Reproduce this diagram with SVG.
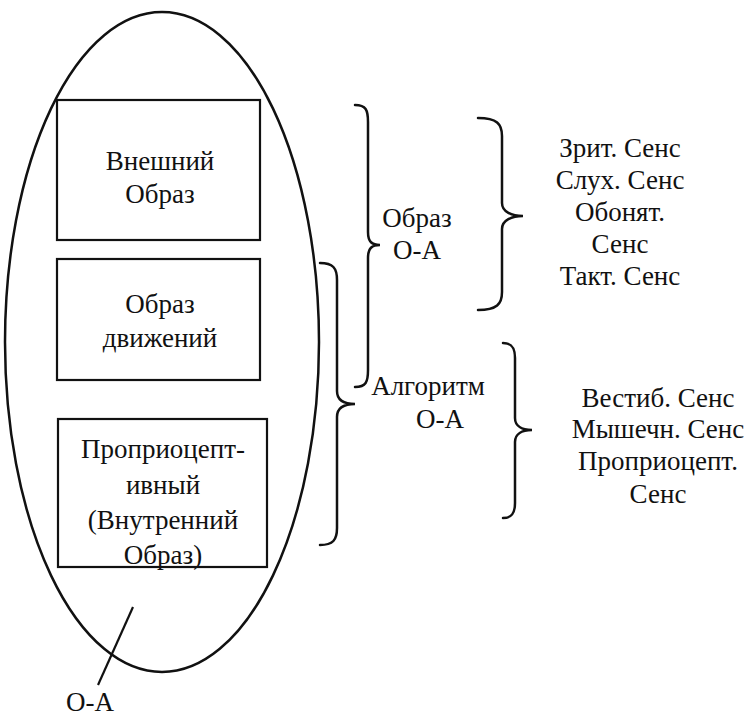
<svg xmlns="http://www.w3.org/2000/svg" width="750" height="717" viewBox="0 0 750 717" font-family="Liberation Serif, DejaVu Serif, serif">
<style>
text{font-size:27px;fill:#111;text-anchor:middle}
.box{fill:none;stroke:#111;stroke-width:2.2}
.br{fill:none;stroke:#111;stroke-width:2.5;stroke-linecap:round}
</style>
<rect width="750" height="717" fill="#fff"/>
<g id="oa-ellipse">
<ellipse cx="162" cy="342" rx="157" ry="330" fill="none" stroke="#111" stroke-width="2.5"/>
</g>
<g id="box-vneshniy" font-family="Liberation Serif, DejaVu Serif, serif">
<rect class="box" x="57" y="100" width="203" height="140"/>
<text x="160" y="170">Внешний</text>
<text x="160" y="203">Образ</text>
</g>
<g id="box-dvizheniy" font-family="Liberation Serif, DejaVu Serif, serif">
<rect class="box" x="57" y="259" width="203" height="121"/>
<text x="160" y="313">Образ</text>
<text x="160" y="347">движений</text>
</g>
<g id="box-vnutrenniy" font-family="Liberation Serif, DejaVu Serif, serif">
<rect class="box" x="58" y="419" width="209" height="148"/>
<text x="163" y="458">Проприоцепт-</text>
<text x="163" y="494">ивный</text>
<text x="163" y="529">(Внутренний</text>
<text x="163" y="564">Образ)</text>
</g>
<g id="connectors">
<path class="br" d="M355 105 C366 105 368 110 368 122 L368 232 C368 242 372 245 380 245 C372 245 368 248 368 258 L368 370 C368 382 366 387 355 387"/>
<path class="br" d="M320 263 C333 263 337 268 337 280 L337 391 C337 401 345 404 355 404 C345 404 337 407 337 417 L337 528 C337 540 333 545 320 545"/>
<path class="br" d="M478 118 C497 118 502 124 502 136 L502 203 C502 212 512 216 523 216 C512 216 502 220 502 229 L502 292 C502 304 497 310 478 310"/>
<path class="br" d="M503 343 C512 343 515 348 515 358 L515 418 C515 426 522 430 532 430 C522 430 515 434 515 442 L515 503 C515 513 512 518 503 518"/>
<line x1="133" y1="607" x2="98" y2="685" stroke="#111" stroke-width="2.2"/>
</g>
<g id="label-obraz-oa" font-family="Liberation Serif, DejaVu Serif, serif">
<text x="417" y="227">Образ</text>
<text x="417" y="259">О-А</text>
</g>
<g id="label-algoritm-oa" font-family="Liberation Serif, DejaVu Serif, serif">
<text x="428" y="395">Алгоритм</text>
<text x="440" y="428">О-А</text>
</g>
<g id="list-obraz" font-family="Liberation Serif, DejaVu Serif, serif">
<text x="620" y="157">Зрит. Сенс</text>
<text x="620" y="189">Слух. Сенс</text>
<text x="620" y="221">Обонят.</text>
<text x="620" y="253">Сенс</text>
<text x="620" y="285">Такт. Сенс</text>
</g>
<g id="list-algoritm" font-family="Liberation Serif, DejaVu Serif, serif">
<text x="658" y="407">Вестиб. Сенс</text>
<text x="658" y="438">Мышечн. Сенс</text>
<text x="658" y="470">Проприоцепт.</text>
<text x="658" y="503">Сенс</text>
</g>
<g id="label-oa" font-family="Liberation Serif, DejaVu Serif, serif">
<text x="90" y="711">О-А</text>
</g>
</svg>
